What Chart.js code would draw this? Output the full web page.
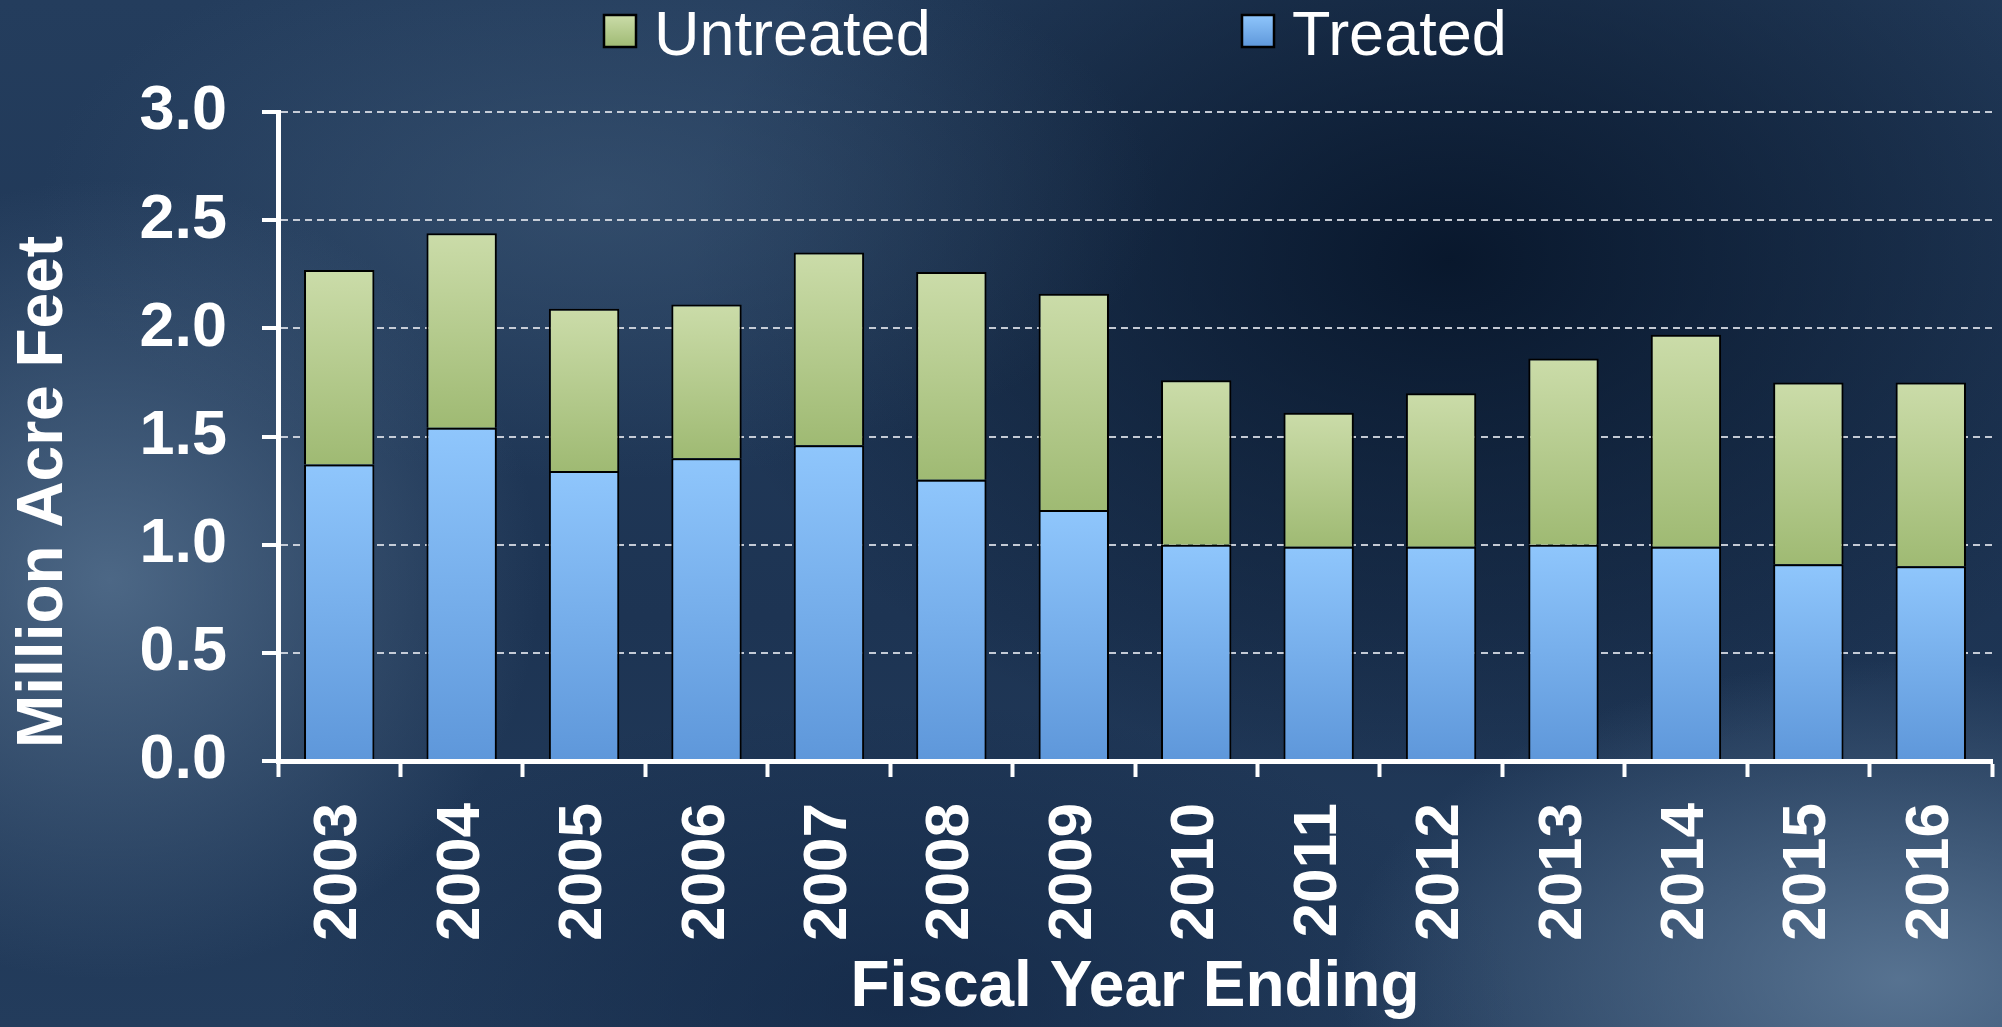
<!DOCTYPE html>
<html><head><meta charset="utf-8">
<script src="https://cdn.jsdelivr.net/npm/chart.js@4.4.1/dist/chart.umd.min.js"></script>
<style>
html,body{margin:0;padding:0;width:2002px;height:1027px;overflow:hidden;}
body{
background:
 radial-gradient(ellipse 430px 400px at 110px 580px, rgba(88,116,146,0.8), rgba(88,116,146,0) 100%),
 radial-gradient(ellipse 560px 280px at 600px 200px, rgba(70,98,128,0.45), rgba(70,98,128,0) 100%),
 radial-gradient(ellipse 560px 320px at 1900px 980px, rgba(96,124,154,0.85), rgba(96,124,154,0) 100%),
 radial-gradient(ellipse 760px 520px at 1450px 260px, rgba(6,20,40,0.9), rgba(6,20,40,0) 100%),
 radial-gradient(ellipse 620px 300px at 900px 1000px, rgba(14,34,64,0.6), rgba(14,34,64,0) 100%),
 linear-gradient(180deg, #243d5d 0%, #1d3453 60%, #233c5c 100%);
}
#wrap{position:relative;width:2002px;height:1027px;}
</style></head>
<body><div id="wrap"><canvas id="c" width="2002" height="1027"></canvas></div>
<script>
const years = ["2003","2004","2005","2006","2007","2008","2009","2010","2011","2012","2013","2014","2015","2016"];
const treated   = [1.37, 1.54, 1.34, 1.40, 1.46, 1.30, 1.16, 1.00, 0.99, 0.99, 1.00, 0.99, 0.91, 0.90];
const untreated = [0.90, 0.90, 0.75, 0.71, 0.89, 0.96, 1.00, 0.76, 0.62, 0.71, 0.86, 0.98, 0.84, 0.85];
const yTickValues = [0, 0.5, 1.0, 1.5, 2.0, 2.5, 3.0];
const seriesNames = ["Untreated", "Treated"];
const yTitle = "Million Acre Feet";
const xTitle = "Fiscal Year Ending";

const FONT = "'Liberation Sans', Arial, Helvetica, sans-serif";
const TREATED_COLORS = ["#8fc6fc", "#5e97da"];
const UNTREATED_COLORS = ["#cbdca9", "#9fba73"];

function gradFill(colors, getTop, getBase) {
  return (c) => {
    const chart = c.chart;
    const area = chart.chartArea;
    if (!area || c.type !== 'data' || !chart.scales.y) return colors[1];
    const y = chart.scales.y;
    const top = y.getPixelForValue(getTop(c.dataIndex));
    const base = y.getPixelForValue(getBase(c.dataIndex));
    const g = chart.ctx.createLinearGradient(0, top, 0, base);
    g.addColorStop(0, colors[0]);
    g.addColorStop(1, colors[1]);
    return g;
  };
}

const TITLE_SHIFT = 13;
const legendPlugin = {
  id: 'customLegend',
  beforeDraw(chart) {
    // the y-axis title starts slightly above the axis bottom (title only)
    const s = chart.scales.y;
    if (s && !s.$titleWrapped) {
      const orig = s.drawTitle;
      s.drawTitle = function () {
        const b = this.bottom;
        this.bottom = b - TITLE_SHIFT;
        orig.call(this);
        this.bottom = b;
      };
      s.$titleWrapped = true;
    }
  },
  afterDraw(chart) {
    const ctx = chart.ctx;
    const items = [
      {label: seriesNames[0], colors: UNTREATED_COLORS, x: 604},
      {label: seriesNames[1], colors: TREATED_COLORS, x: 1242}
    ];
    ctx.save();
    items.forEach(it => {
      const bx = it.x, by = 15, s = 32;
      const g = ctx.createLinearGradient(0, by, 0, by + s);
      g.addColorStop(0, it.colors[0]);
      g.addColorStop(1, it.colors[1]);
      ctx.fillStyle = g;
      ctx.fillRect(bx, by, s, s);
      ctx.lineWidth = 2.5;
      ctx.strokeStyle = '#000';
      ctx.strokeRect(bx, by, s, s);
      ctx.fillStyle = '#fff';
      ctx.font = "63px " + FONT;
      ctx.textAlign = 'left';
      ctx.textBaseline = 'middle';
      ctx.fillText(it.label, bx + 50, by + s / 2 + 7);
    });
    ctx.restore();
  }
};

new Chart(document.getElementById('c'), {
  type: 'bar',
  data: {
    labels: years,
    datasets: [
      {
        label: seriesNames[1],
        data: treated,
        backgroundColor: gradFill(TREATED_COLORS, i => treated[i], i => 0),
        borderColor: '#000',
        borderWidth: 2,
        categoryPercentage: 1,
        barPercentage: 0.575
      },
      {
        label: seriesNames[0],
        data: untreated,
        backgroundColor: gradFill(UNTREATED_COLORS, i => treated[i] + untreated[i], i => treated[i]),
        borderColor: '#000',
        borderWidth: 2,
        categoryPercentage: 1,
        barPercentage: 0.575
      }
    ]
  },
  options: {
    responsive: false,
    animation: false,
    devicePixelRatio: 1,
    layout: {padding: {top: 112, right: 10, bottom: 0, left: 0}},
    plugins: {
      legend: {display: false},
      tooltip: {enabled: false}
    },
    scales: {
      x: {
        stacked: true,
        offset: true,
        afterFit(s) { s.height = 266; s.paddingLeft = 0; s.paddingRight = 0; },
        grid: {display: true, drawOnChartArea: false, drawTicks: true, offset: true,
               tickLength: 16, tickWidth: 4, tickColor: '#ffffff', tickBorderDash: []},
        border: {display: true, color: '#ffffff', width: 5, z: 1},
        ticks: {color: '#ffffff', font: {family: FONT, size: 62, weight: 'bold'},
                maxRotation: 90, minRotation: 90, autoSkip: false, padding: 26},
        title: {display: true, text: xTitle, color: '#ffffff',
                font: {family: FONT, size: 64, weight: 'bold'}, padding: {top: 0, bottom: 0}}
      },
      y: {
        stacked: true,
        min: 0, max: 3,
        afterFit(s) { s.width = 278; s.paddingTop = 0; s.paddingBottom = 0; },
        afterBuildTicks(s) { s.ticks = yTickValues.map(v => ({value: v})); },
        grid: {color: 'rgba(215,220,228,0.9)', lineWidth: 2, drawTicks: true,
               tickLength: 16, tickWidth: 4, tickColor: '#ffffff', tickBorderDash: []},
        border: {display: true, color: '#ffffff', width: 5, dash: [7, 5]},
        ticks: {color: '#ffffff', font: {family: FONT, size: 63, weight: 'bold'},
                padding: 35, callback: v => Number(v).toFixed(1)},
        title: {display: true, text: yTitle, color: '#ffffff', align: 'start',
                font: {family: FONT, size: 64, weight: 'bold'}, padding: {top: 6, bottom: 0}}
      }
    }
  },
  plugins: [legendPlugin]
});
</script>
</body></html>
